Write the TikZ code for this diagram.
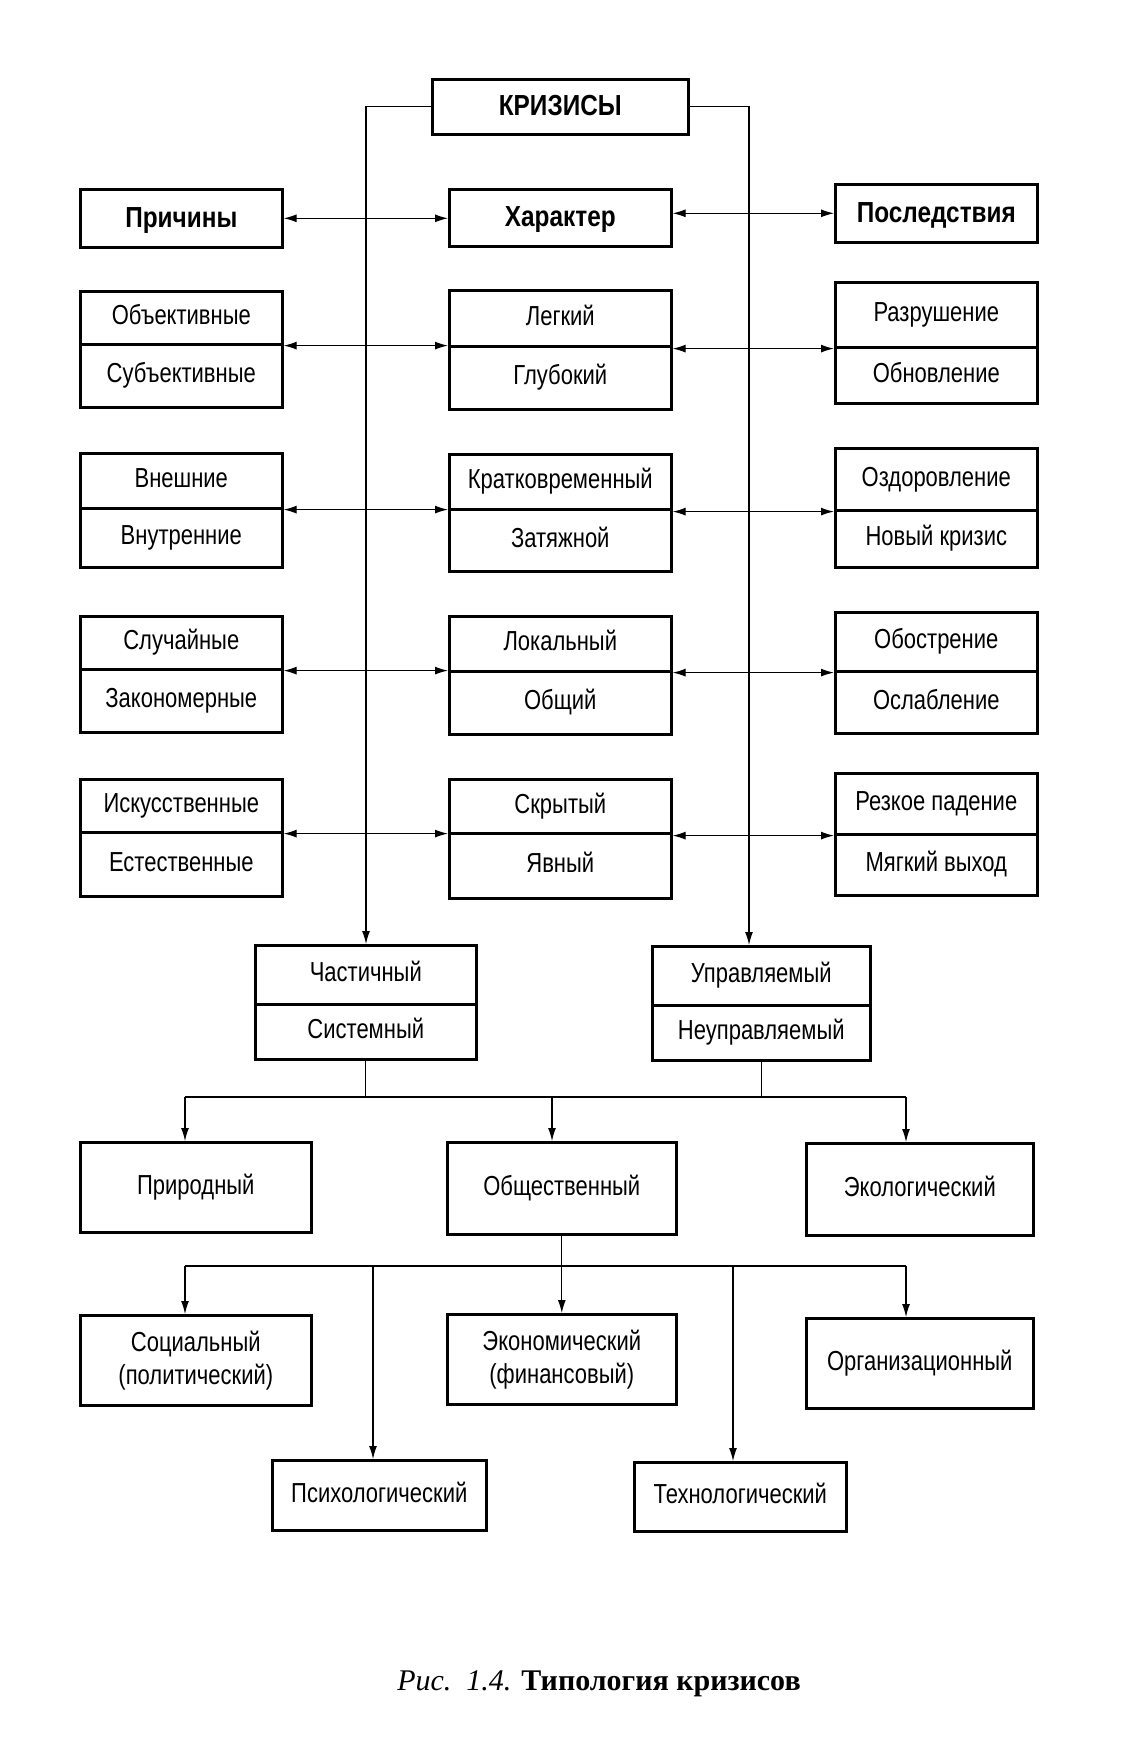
\documentclass[tikz,border=0pt]{standalone}
\usepackage{fontspec}
\setmainfont{Liberation Sans}
\newfontfamily\rgfont{Liberation Sans}[FakeStretch=0.8]
\newfontfamily\hdfont{Liberation Sans}[FakeStretch=0.84]
\newfontfamily\capfont{Liberation Serif}
\usetikzlibrary{arrows.meta}
\tikzset{
 bxbase/.style={draw, line width=2.6pt, inner sep=0pt, anchor=north west, align=center, font=\rgfont\fontsize{27.5}{33}\selectfont},
 boxst/.style={bxbase, text height=20pt, text depth=6pt},
 boxtwo/.style={bxbase},
 hdst/.style={bxbase, text height=21pt, text depth=3pt, font=\hdfont\bfseries\fontsize{29}{32}\selectfont},
 conn/.style={line width=1.2pt},
 arr/.style={conn, -{Latex[length=13pt,width=8pt]}},
 dbl/.style={conn, {Latex[length=13pt,width=8pt]}-{Latex[length=13pt,width=8pt]}},
}
\newcommand\bx[7][boxst]{\node[#1, minimum width={(#5-#3)*1pt}, minimum height={(#6-#4)*1pt}] (#2) at (#3,#4) {#7};}
\begin{document}
\begin{tikzpicture}[x=1pt,y=-1pt]
\fill[white] (0,0) rectangle (1146,1749);
\useasboundingbox (0,0) rectangle (1146,1749);
% header row
\bx[hdst]{kriz}{431}{78}{687}{133}{КРИЗИСЫ}
\bx[hdst]{prich}{79}{188}{281}{246}{Причины}
\bx[hdst]{khar}{448}{188}{670}{245}{Характер}
\bx[hdst]{posl}{834}{183}{1036}{241}{Последствия}
% row B
\bx{obj}{79}{290}{281}{343}{Объективные}
\bx{sub}{79}{343}{281}{406}{Субъективные}
\bx{leg}{448}{289}{670}{345}{Легкий}
\bx{glub}{448}{345}{670}{408}{Глубокий}
\bx{razr}{834}{281}{1036}{346}{Разрушение}
\bx{obnov}{834}{346}{1036}{402}{Обновление}
% row C
\bx{vnesh}{79}{452}{281}{507}{Внешние}
\bx{vnutr}{79}{507}{281}{566}{Внутренние}
\bx{krat}{448}{453}{670}{508}{Кратковременный}
\bx{zat}{448}{508}{670}{570}{Затяжной}
\bx{ozd}{834}{447}{1036}{509}{Оздоровление}
\bx{nov}{834}{509}{1036}{566}{Новый кризис}
% row D
\bx{sluch}{79}{615}{281}{668}{Случайные}
\bx{zak}{79}{668}{281}{731}{Закономерные}
\bx{lok}{448}{615}{670}{670}{Локальный}
\bx{obshch}{448}{670}{670}{733}{Общий}
\bx{obostr}{834}{611}{1036}{670}{Обострение}
\bx{oslab}{834}{670}{1036}{732}{Ослабление}
% row E
\bx{isk}{79}{778}{281}{831}{Искусственные}
\bx{est}{79}{831}{281}{895}{Естественные}
\bx{skr}{448}{778}{670}{832}{Скрытый}
\bx{yav}{448}{832}{670}{897}{Явный}
\bx{rezk}{834}{772}{1036}{833}{Резкое падение}
\bx{myag}{834}{833}{1036}{894}{Мягкий выход}
% lower part
\bx{chast}{254}{944}{475}{1003}{Частичный}
\bx{sist}{254}{1003}{475}{1058}{Системный}
\bx{upr}{651}{945}{869}{1004}{Управляемый}
\bx{neupr}{651}{1004}{869}{1059}{Неуправляемый}
\bx{prir}{79}{1141}{310}{1231}{Природный}
\bx{obsh}{446}{1141}{675}{1233}{Общественный}
\bx{ekol}{805}{1142}{1032}{1234}{Экологический}
\bx[boxtwo]{soc}{79}{1314}{310}{1404}{Социальный\\(политический)}
\bx[boxtwo]{econ}{446}{1313}{675}{1403}{Экономический\\(финансовый)}
\bx{org}{805}{1317}{1032}{1407}{Организационный}
\bx{psy}{271}{1459}{485}{1529}{Психологический}
\bx{tech}{633}{1461}{845}{1530}{Технологический}
% caption
\node[anchor=base, inner sep=0pt, font=\capfont\fontsize{30}{34}\selectfont] (cap) at (599,1690) {\textit{Рис.~~1.4.} \textbf{Типология кризисов}};
% verticals from КРИЗИСЫ
\coordinate (vl) at (366,0);
\coordinate (vr) at (749,0);
\draw[arr] (kriz.west) -| (vl |- chast.north);
\draw[arr] (kriz.east) -| (vr |- upr.north);
% double arrows
\draw[dbl] (prich.east) -- (prich.east -| khar.west);
\draw[dbl] (khar.east |- posl.west) -- (posl.west);
\draw[dbl] (obj.south east) -- (obj.south east -| leg.west);
\draw[dbl] (razr.south west -| leg.east) -- (razr.south west);
\draw[dbl] (vnesh.south east) -- (vnesh.south east -| krat.west);
\draw[dbl] (ozd.south west -| krat.east) -- (ozd.south west);
\draw[dbl] (sluch.south east) -- (sluch.south east -| lok.west);
\draw[dbl] (obostr.south west -| lok.east) -- (obostr.south west);
\draw[dbl] (isk.south east) -- (isk.south east -| skr.west);
\draw[dbl] (rezk.south west -| skr.east) -- (rezk.south west);
% upper bus
\coordinate (b1L) at (185,1097);
\coordinate (b1M) at (552,1097);
\coordinate (b1R) at (906,1097);
\draw[conn] (sist.south) -- (sist.south |- b1L);
\draw[conn] (neupr.south) -- (neupr.south |- b1L);
\draw[conn] (b1L) -- (b1R);
\draw[arr] (b1L) -- (b1L |- prir.north);
\draw[arr] (b1M) -- (b1M |- obsh.north);
\draw[arr] (b1R) -- (b1R |- ekol.north);
% lower bus
\coordinate (b2L) at (185,1266);
\coordinate (b2P) at (373,1266);
\coordinate (b2T) at (733,1266);
\coordinate (b2R) at (906,1266);
\draw[arr] (obsh.south) -- (obsh.south |- econ.north);
\draw[conn] (b2L) -- (b2R);
\draw[arr] (b2L) -- (b2L |- soc.north);
\draw[arr] (b2P) -- (b2P |- psy.north);
\draw[arr] (b2T) -- (b2T |- tech.north);
\draw[arr] (b2R) -- (b2R |- org.north);
\end{tikzpicture}
\end{document}
